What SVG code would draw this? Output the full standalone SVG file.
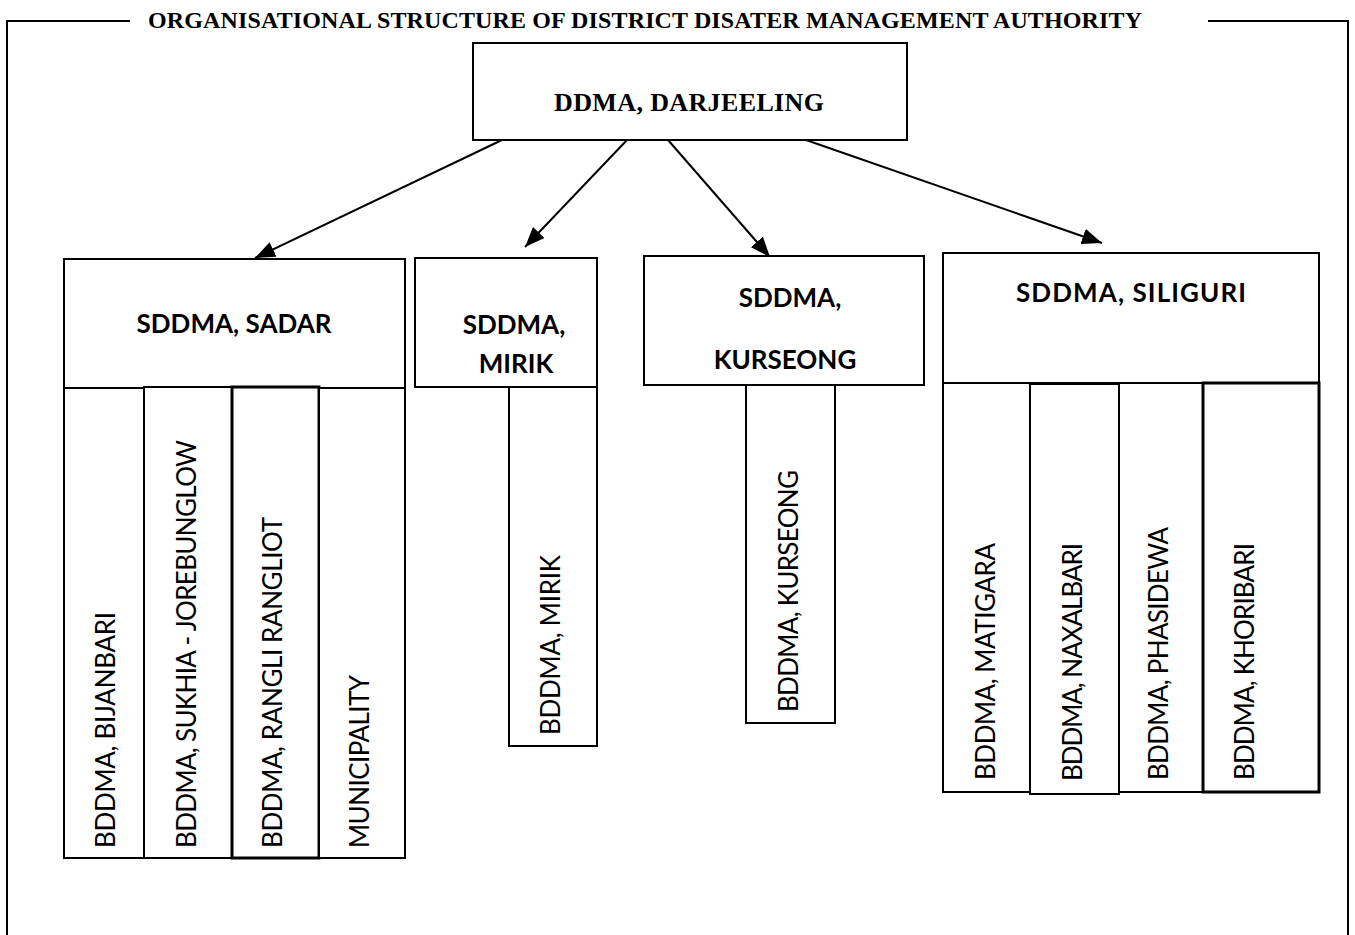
<svg xmlns="http://www.w3.org/2000/svg" width="1355" height="935" viewBox="0 0 1355 935">
<style>
.box{fill:#fff;stroke:#000;stroke-width:2}
.thick{stroke-width:3}
.frame{fill:none;stroke:#000;stroke-width:2}
.title{font-family:"Liberation Serif","Times New Roman",serif;font-weight:bold;fill:#000}
.hd{font-family:Lato,"Open Sans",sans-serif;font-weight:bold;font-size:26px;fill:#000;text-anchor:middle}
.vt{font-family:Lato,"Open Sans",sans-serif;font-size:26px;fill:#000}
.conn{stroke:#000;stroke-width:2;fill:none;marker-end:url(#ah)}
</style>
<defs>
<marker id="ah" markerUnits="userSpaceOnUse" markerWidth="22" markerHeight="16" refX="20" refY="8" orient="auto">
<path d="M0,0 L20,8 L0,16 Z" fill="#000"/>
</marker>
</defs>
<rect width="1355" height="935" fill="#fff"/>
<g id="frame">
<path class="frame" d="M7,935 V21 H130"/>
<path class="frame" d="M1208,21 H1348 V935"/>
<text class="title" x="645" y="28" font-size="24" text-anchor="middle" textLength="994">ORGANISATIONAL STRUCTURE OF DISTRICT DISATER MANAGEMENT AUTHORITY</text>
</g>
<g id="connectors">
<line class="conn" x1="502" y1="140" x2="255" y2="258"/>
<line class="conn" x1="627" y1="140" x2="525" y2="247"/>
<line class="conn" x1="668" y1="140" x2="770" y2="257"/>
<line class="conn" x1="806" y1="140" x2="1102" y2="243"/>
</g>
<g id="ddma">
<rect class="box" x="473" y="43" width="434" height="97"/>
<text class="title" x="689" y="111" font-size="26" text-anchor="middle" textLength="270">DDMA, DARJEELING</text>
</g>
<g id="sddma-sadar">
<rect class="box" x="64" y="259" width="341" height="129"/>
<text class="hd" x="234" y="333" textLength="195">SDDMA, SADAR</text>
</g>
<g id="bddma-bijanbari">
<rect class="box" x="64" y="388" width="80" height="470"/>
<text class="vt" transform="translate(115,848) rotate(-90)" textLength="236">BDDMA,  BIJANBARI</text>
</g>
<g id="bddma-sukhia">
<rect class="box" x="144" y="387" width="88" height="471"/>
<text class="vt" transform="translate(196,848) rotate(-90)" textLength="408">BDDMA, SUKHIA - JOREBUNGLOW</text>
</g>
<g id="bddma-rangli">
<rect class="box thick" x="232" y="387" width="87" height="471"/>
<text class="vt" transform="translate(282,848) rotate(-90)" textLength="331">BDDMA, RANGLI RANGLIOT</text>
</g>
<g id="municipality">
<rect class="box" x="319" y="388" width="86" height="470"/>
<text class="vt" transform="translate(369,848) rotate(-90)" textLength="173">MUNICIPALITY</text>
</g>
<g id="sddma-mirik">
<rect class="box" x="415" y="258" width="182" height="129"/>
<text class="hd" x="514" y="334">SDDMA,</text>
<text class="hd" x="516" y="373">MIRIK</text>
</g>
<g id="bddma-mirik">
<rect class="box" x="509" y="387" width="88" height="359"/>
<text class="vt" transform="translate(560,735) rotate(-90)" textLength="180">BDDMA, MIRIK</text>
</g>
<g id="sddma-kurseong">
<rect class="box" x="644" y="256" width="280" height="129"/>
<text class="hd" x="790" y="307">SDDMA,</text>
<text class="hd" x="785" y="369">KURSEONG</text>
</g>
<g id="bddma-kurseong">
<rect class="box" x="746" y="385" width="89" height="338"/>
<text class="vt" transform="translate(798,712) rotate(-90)" textLength="242">BDDMA, KURSEONG</text>
</g>
<g id="sddma-siliguri">
<rect class="box" x="943" y="253" width="376" height="130"/>
<text class="hd" x="1131" y="302" textLength="230">SDDMA, SILIGURI</text>
</g>
<g id="bddma-matigara">
<rect class="box" x="943" y="383" width="87" height="409"/>
<text class="vt" transform="translate(995,780) rotate(-90)" textLength="237">BDDMA, MATIGARA</text>
</g>
<g id="bddma-naxalbari">
<rect class="box" x="1030" y="384" width="89" height="410"/>
<text class="vt" transform="translate(1082,781) rotate(-90)" textLength="238">BDDMA, NAXALBARI</text>
</g>
<g id="bddma-phasidewa">
<rect class="box" x="1119" y="383" width="84" height="409"/>
<text class="vt" transform="translate(1168,780) rotate(-90)" textLength="253">BDDMA, PHASIDEWA</text>
</g>
<g id="bddma-khoribari">
<rect class="box thick" x="1203" y="383" width="116" height="409"/>
<text class="vt" transform="translate(1254,780) rotate(-90)" textLength="237">BDDMA, KHORIBARI</text>
</g>
</svg>
